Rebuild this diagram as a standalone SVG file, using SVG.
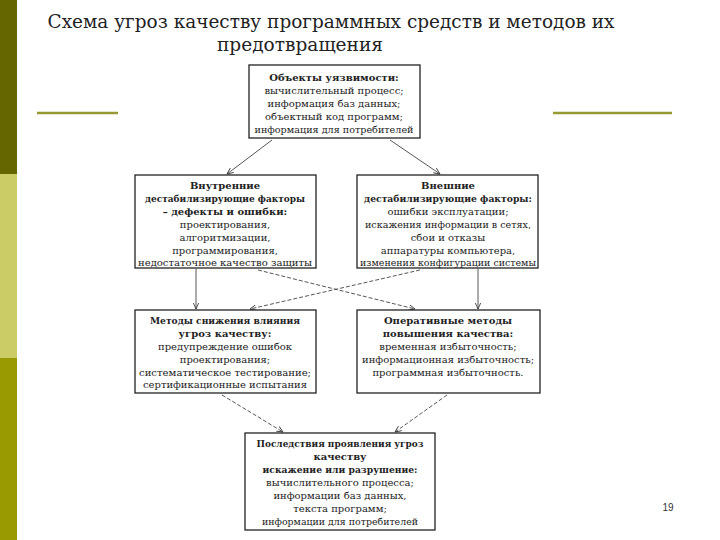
<svg xmlns="http://www.w3.org/2000/svg" width="720" height="540" viewBox="0 0 720 540">
<defs>
<marker id="ah" viewBox="0 0 10 10" refX="9" refY="5" markerWidth="7" markerHeight="7" orient="auto" markerUnits="userSpaceOnUse">
<path d="M0,1 L9,5 L0,9" fill="none" stroke="#333" stroke-width="1.2"/>
</marker>
</defs>
<style>
.box{fill:#fff;stroke:#222;stroke-width:1.3}
.t{font-family:'DejaVu Serif',serif;font-size:10px;fill:#222;text-anchor:middle}
.b{font-weight:bold}
.c{fill:none;stroke:#444;stroke-width:0.9;marker-end:url(#ah)}
.d{stroke-dasharray:4,2}
.title{font-family:'DejaVu Serif',serif;font-size:19px;fill:#222;text-anchor:middle}
</style>
<rect width="720" height="540" fill="#fff"/>
<rect x="0" y="0" width="17" height="174" fill="#666600"/>
<rect x="0" y="174" width="17" height="184" fill="#cccc66"/>
<rect x="0" y="358" width="17" height="182" fill="#999900"/>
<line x1="37" y1="113" x2="118" y2="113" stroke="#999933" stroke-width="2.5"/>
<line x1="553" y1="113" x2="672" y2="113" stroke="#999933" stroke-width="2.5"/>
<text class="title" x="331" y="28" textLength="567" lengthAdjust="spacingAndGlyphs">Схема угроз качеству программных средств и методов их</text>
<text class="title" x="300" y="51" textLength="166" lengthAdjust="spacingAndGlyphs">предотвращения</text>
<g id="connectors">
<path class="c" d="M272,140 L227,174"/>
<path class="c" d="M390,140 L440,174"/>
<path class="c" d="M196,269 L196,309"/>
<path class="c" d="M478,269 L478,309" stroke="#999"/>
<path class="c d" d="M258,270 L415,309"/>
<path class="c d" d="M420,270 L250,309"/>
<path class="c d" d="M222,395 L283,432"/>
<path class="c d" d="M447,395 L395,432"/>
</g>
<g id="objects">
<rect class="box" x="249" y="65" width="171" height="73"/>
<text class="t b" x="334" y="81">Объекты уязвимости:</text>
<text class="t" x="334" y="94">вычислительный процесс;</text>
<text class="t" x="334" y="107">информация баз данных;</text>
<text class="t" x="334" y="120">объектный код программ;</text>
<text class="t" x="334" y="133" textLength="159" lengthAdjust="spacingAndGlyphs">информация для потребителей</text>
</g>
<g id="internal">
<rect class="box" x="135" y="175" width="181" height="93"/>
<text class="t b" x="225" y="189">Внутренние</text>
<text class="t b" x="225" y="202" textLength="160" lengthAdjust="spacingAndGlyphs">дестабилизирующие факторы</text>
<text class="t b" x="225" y="215">– дефекты и ошибки:</text>
<text class="t" x="225" y="228">проектирования,</text>
<text class="t" x="225" y="241">алгоритмизации,</text>
<text class="t" x="225" y="254">программирования,</text>
<text class="t" x="225" y="266" textLength="174" lengthAdjust="spacingAndGlyphs">недостаточное качество защиты</text>
</g>
<g id="external">
<rect class="box" x="357" y="175" width="181" height="93"/>
<text class="t b" x="448" y="189">Внешние</text>
<text class="t b" x="448" y="202" textLength="168" lengthAdjust="spacingAndGlyphs">дестабилизирующие факторы:</text>
<text class="t" x="448" y="215">ошибки эксплуатации;</text>
<text class="t" x="448" y="228" textLength="166" lengthAdjust="spacingAndGlyphs">искажения информации в сетях,</text>
<text class="t" x="448" y="241">сбои и отказы</text>
<text class="t" x="448" y="254">аппаратуры компьютера,</text>
<text class="t" x="448" y="266" textLength="176" lengthAdjust="spacingAndGlyphs">изменения конфигурации системы</text>
</g>
<g id="methods">
<rect class="box" x="135" y="310" width="181" height="83"/>
<text class="t b" x="225" y="324" textLength="150" lengthAdjust="spacingAndGlyphs">Методы снижения влияния</text>
<text class="t b" x="225" y="337">угроз качеству:</text>
<text class="t" x="225" y="350">предупреждение ошибок</text>
<text class="t" x="225" y="363">проектирования;</text>
<text class="t" x="225" y="376" textLength="172" lengthAdjust="spacingAndGlyphs">систематическое тестирование;</text>
<text class="t" x="225" y="388" textLength="164" lengthAdjust="spacingAndGlyphs">сертификационные испытания</text>
</g>
<g id="operative">
<rect class="box" x="357" y="310" width="183" height="83"/>
<text class="t b" x="448" y="324">Оперативные методы</text>
<text class="t b" x="448" y="337">повышения качества:</text>
<text class="t" x="448" y="350">временная избыточность;</text>
<text class="t" x="448" y="363" textLength="172" lengthAdjust="spacingAndGlyphs">информационная избыточность;</text>
<text class="t" x="448" y="376">программная избыточность.</text>
</g>
<g id="consequences">
<rect class="box" x="245" y="433" width="190" height="97"/>
<text class="t b" x="340" y="447" textLength="167" lengthAdjust="spacingAndGlyphs">Последствия проявления угроз</text>
<text class="t b" x="340" y="460">качеству</text>
<text class="t b" x="340" y="473" textLength="155" lengthAdjust="spacingAndGlyphs">искажение или разрушение:</text>
<text class="t" x="340" y="486">вычислительного процесса;</text>
<text class="t" x="340" y="499">информации баз данных,</text>
<text class="t" x="340" y="512">текста программ;</text>
<text class="t" x="340" y="525" textLength="156" lengthAdjust="spacingAndGlyphs">информации для потребителей</text>
</g>
<text x="668" y="511" font-family="Liberation Sans, Arial, sans-serif" font-size="10" fill="#333" text-anchor="middle">19</text>
</svg>
